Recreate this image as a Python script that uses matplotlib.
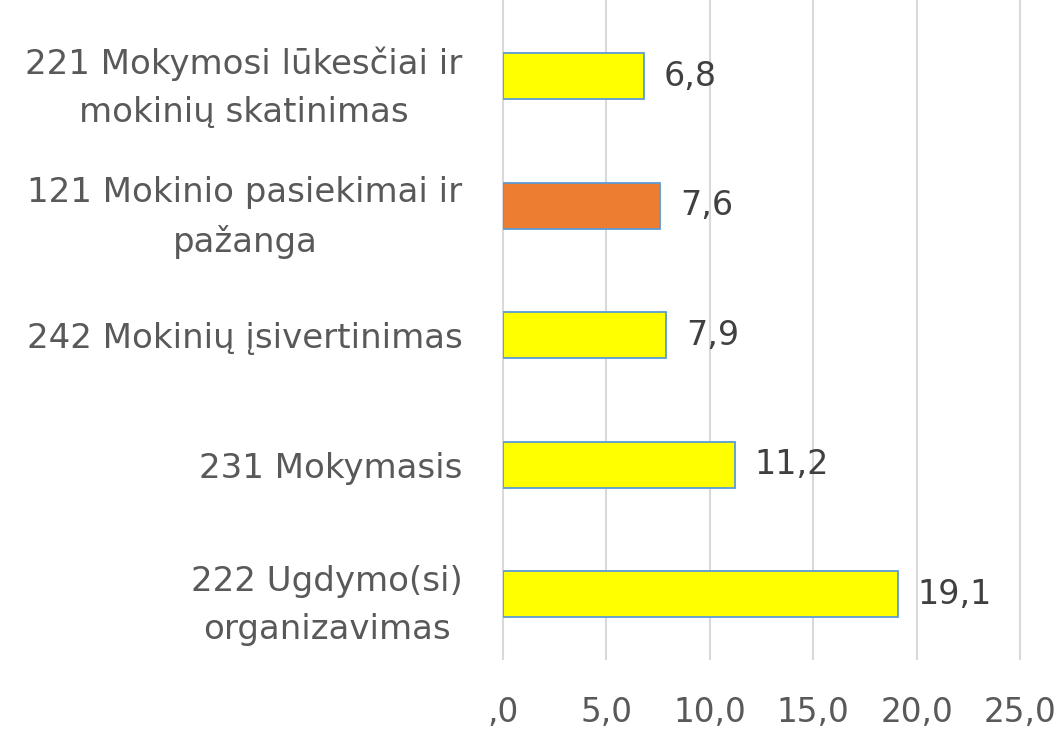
import matplotlib.pyplot as plt

categories = ['222 Ugdymo(si)\norganizavimas', '231 Mokymasis', '242 Mokinių įsivertinimas',
              '121 Mokinio pasiekimai ir\npažanga', '221 Mokymosi lūkesčiai ir\nmokinių skatinimas']
values = [19.1, 11.2, 7.9, 7.6, 6.8]
colors = ['#FFFF00', '#FFFF00', '#FFFF00', '#ED7D31', '#FFFF00']
xticks = [0, 5, 10, 15, 20, 25]
xlabels = [',0', '5,0', '10,0', '15,0', '20,0', '25,0']

plt.rcParams['font.family'] = 'DejaVu Sans'
fig = plt.figure(figsize=(10.64, 7.34), dpi=100)
ax = fig.add_axes([503/1064, 75/734, 517/1064, 659/734])

pos = range(len(values))
ax.barh(pos, values, height=0.355, color=colors, edgecolor='#5B9BD5', linewidth=1.3, zorder=3)
for i, v in enumerate(values):
    ax.text(v + 0.95, i, f'{v:.1f}'.replace('.', ','), va='center', ha='left',
            fontsize=24, color='#404040')

ax.set_xlim(0, 25)
ax.set_ylim(-0.5, 4.59)
ax.set_xticks(xticks)
ax.set_xticklabels(xlabels, fontsize=23.5, color='#595959')
ax.set_yticks(list(pos))
ax.set_yticklabels(categories, fontsize=24.5, color='#595959', multialignment='center', linespacing=1.6)
ax.tick_params(axis='x', length=0, pad=27)
ax.tick_params(axis='y', length=0, pad=29)
ax.grid(axis='x', color='#D9D9D9', linewidth=1.5, zorder=0)
for gl in ax.get_xgridlines():
    gl.set_clip_on(False)
for s in ax.spines.values():
    s.set_visible(False)

fig.savefig('out.png', dpi=100)
